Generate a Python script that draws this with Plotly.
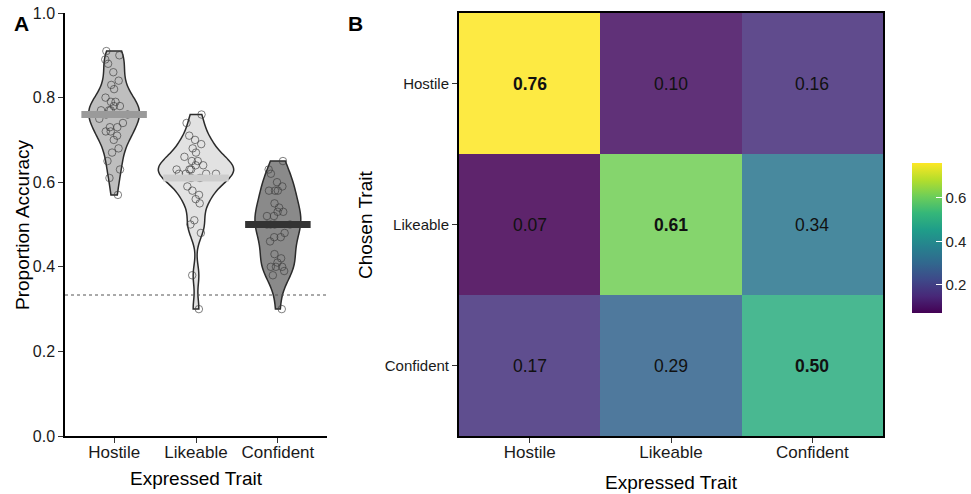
import numpy as np
import plotly.graph_objects as go

# ---------------- data ----------------
traits = ["Hostile", "Likeable", "Confident"]

hostile_acc = [0.91, 0.90, 0.89, 0.88, 0.86, 0.84, 0.83, 0.82, 0.80, 0.79, 0.79,
               0.78, 0.78, 0.77, 0.77, 0.77, 0.76, 0.76, 0.75, 0.74, 0.73, 0.73,
               0.72, 0.72, 0.71, 0.70, 0.68, 0.67, 0.65, 0.63, 0.61, 0.57]
likeable_acc = [0.76, 0.74, 0.71, 0.70, 0.69, 0.68, 0.67, 0.66, 0.65, 0.65, 0.64,
                0.64, 0.63, 0.63, 0.63, 0.62, 0.62, 0.62, 0.62, 0.61, 0.61, 0.59,
                0.58, 0.57, 0.56, 0.55, 0.51, 0.50, 0.48, 0.38, 0.30]
confident_acc = [0.65, 0.63, 0.62, 0.60, 0.59, 0.58, 0.58, 0.58, 0.55, 0.54, 0.53,
                 0.53, 0.52, 0.52, 0.50, 0.50, 0.50, 0.50, 0.48, 0.47, 0.47, 0.46,
                 0.43, 0.42, 0.41, 0.40, 0.40, 0.40, 0.39, 0.38, 0.30]
mean_accuracy = [0.76, 0.61, 0.50]
chance_level = 1 / 3

# confusion matrix: rows = chosen trait, columns = expressed trait
confusion = [[0.76, 0.10, 0.16],
             [0.07, 0.61, 0.34],
             [0.17, 0.29, 0.50]]

y_ticks = [0.0, 0.2, 0.4, 0.6, 0.8, 1.0]
cbar_ticks = [0.2, 0.4, 0.6]

# ---------------- styles ----------------
W, H = 971, 494
FONT = "Liberation Sans, Arial, sans-serif"
fills = ["#bebebe", "#e2e2e2", "#8a8a8a"]
bar_colors = ["#9a9a9a", "#cdcdcd", "#333333"]
violin_widths = [0.62, 0.92, 0.56]
bar_half = 0.40

def px_x(p):
    return p / W

def px_y(p):
    return 1 - p / H

groups = [hostile_acc, likeable_acc, confident_acc]

def nrd0(v):
    v = np.asarray(v, dtype=float)
    sd = v.std(ddof=1)
    iqr = np.subtract(*np.percentile(v, [75, 25]))
    return 0.9 * min(sd, iqr / 1.34) * len(v) ** (-0.2)

fig = go.Figure()

# violin bodies
for i, vals in enumerate(groups):
    fig.add_trace(go.Violin(
        x=[i] * len(vals), y=vals, xaxis="x", yaxis="y",
        width=violin_widths[i], spanmode="hard", bandwidth=nrd0(vals),
        fillcolor=fills[i], line=dict(color="#2b2b2b", width=1.5),
        points=False, box_visible=False, meanline_visible=False,
        hoverinfo="skip", showlegend=False, opacity=1))

# mean bars
for i, m in enumerate(mean_accuracy):
    fig.add_trace(go.Scatter(
        x=[i - bar_half, i + bar_half], y=[m, m], mode="lines",
        line=dict(color=bar_colors[i], width=7), xaxis="x", yaxis="y",
        hoverinfo="skip", showlegend=False))

# jittered points
for i, vals in enumerate(groups):
    fig.add_trace(go.Violin(
        x=[i] * len(vals), y=vals, xaxis="x", yaxis="y",
        width=violin_widths[i], spanmode="hard", bandwidth=nrd0(vals),
        fillcolor="rgba(0,0,0,0)", line=dict(color="rgba(0,0,0,0)", width=0),
        points="all", pointpos=0, jitter=0.6,
        marker=dict(symbol="circle-open", size=7.5, color="rgba(60,60,60,0.65)",
                    line=dict(width=1)),
        box_visible=False, meanline_visible=False, showlegend=False,
        hoverinfo="y"))

# heatmap
z = np.array(confusion)
text = [[(f"<b>{v:.2f}</b>" if r == c else f"{v:.2f}") for c, v in enumerate(row)]
        for r, row in enumerate(confusion)]
fig.add_trace(go.Heatmap(
    z=z, x=traits, y=traits, text=text, texttemplate="%{text}",
    textfont=dict(size=17.5, color="#111111", family=FONT),
    colorscale="Viridis", zmin=z.min(), zmax=z.max(), opacity=0.86,
    xaxis="x2", yaxis="y2", hoverinfo="z",
    colorbar=dict(x=px_x(912), xanchor="left", y=px_y(238), yanchor="middle",
                  xpad=0, ypad=0,
                  thickness=30, thicknessmode="pixels", len=150, lenmode="pixels",
                  tickvals=cbar_ticks, ticktext=[f"{t:.1f}" for t in cbar_ticks],
                  ticks="inside", ticklen=6, tickcolor="white", tickwidth=1,
                  outlinewidth=0, tickfont=dict(size=15, color="#222", family=FONT))))

dom_y = [px_y(436), px_y(13)]
fig.update_layout(
    width=W, height=H, margin=dict(l=0, r=0, t=0, b=0, autoexpand=False),
    paper_bgcolor="white", plot_bgcolor="white",
    font=dict(family=FONT, color="#1a1a1a"),
    violinmode="overlay", violingap=0, violingroupgap=0,
    xaxis=dict(domain=[px_x(65), px_x(327)], range=[-0.6, 2.6],
               tickvals=list(range(len(traits))), ticktext=traits,
               showline=True, linecolor="black", linewidth=1.5,
               ticks="outside", ticklen=5, tickcolor="#333", ticklabelstandoff=-5,
               tickfont=dict(size=17, color="#1a1a1a"),
               showgrid=False, zeroline=False, anchor="y", automargin=False),
    yaxis=dict(domain=dom_y, range=[0, 1], tickvals=y_ticks,
               ticktext=[f"{t:.1f}" for t in y_ticks],
               showline=True, linecolor="black", linewidth=1.5,
               ticks="outside", ticklen=5, tickcolor="#333",
               tickfont=dict(size=16, color="#1a1a1a"),
               showgrid=False, zeroline=False, anchor="x", automargin=False),
    xaxis2=dict(domain=[px_x(459), px_x(883)], anchor="y2",
                showline=True, mirror=True, linecolor="black", linewidth=2,
                ticks="outside", ticklen=5, tickcolor="#333", ticklabelstandoff=-5,
                tickfont=dict(size=17, color="#1a1a1a"),
                showgrid=False, zeroline=False, automargin=False),
    yaxis2=dict(domain=dom_y, anchor="x2", autorange="reversed",
                showline=True, mirror=True, linecolor="black", linewidth=2,
                ticks="outside", ticklen=5, tickcolor="#333",
                tickfont=dict(size=15, color="#1a1a1a"),
                showgrid=False, zeroline=False, automargin=False),
)

# chance line
fig.add_shape(type="line", xref="x domain", yref="y", x0=0, x1=1,
              y0=chance_level, y1=chance_level,
              line=dict(color="#555555", width=1, dash="dot"))

ann = [
    dict(text="<b>A</b>", x=px_x(12), y=px_y(23), size=21, angle=0, xanchor="left"),
    dict(text="<b>B</b>", x=px_x(346), y=px_y(23), size=21, angle=0, xanchor="left"),
    dict(text="Proportion Accuracy", x=px_x(22), y=px_y(225), size=19, angle=-90, xanchor="center"),
    dict(text="Expressed Trait", x=px_x(196), y=px_y(478), size=19, angle=0, xanchor="center"),
    dict(text="Chosen Trait", x=px_x(365), y=px_y(225), size=19, angle=-90, xanchor="center"),
    dict(text="Expressed Trait", x=px_x(671), y=px_y(482), size=19, angle=0, xanchor="center"),
]
for a in ann:
    fig.add_annotation(text=a["text"], x=a["x"], y=a["y"], xref="paper", yref="paper",
                       showarrow=False, textangle=a["angle"], xanchor=a["xanchor"],
                       yanchor="middle", font=dict(size=a["size"], color="black"))

fig.write_html("out.html", config={"displayModeBar": False},
               post_script="document.body.style.margin='0';document.body.style.padding='0';")
